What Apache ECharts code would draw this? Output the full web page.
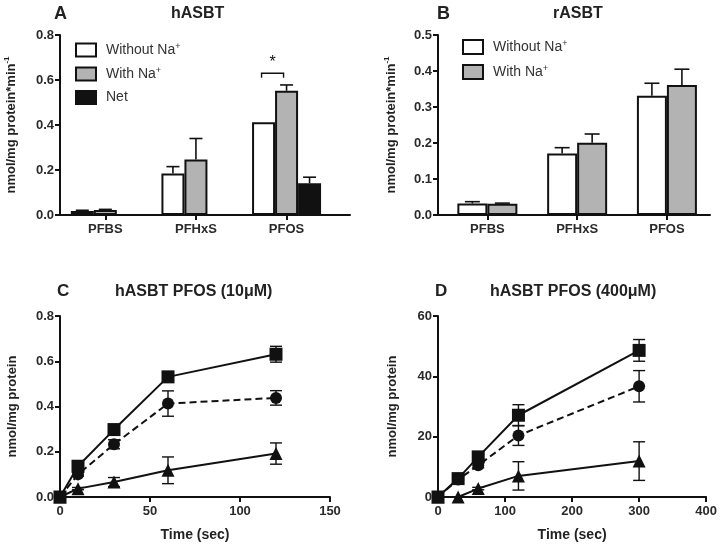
<!DOCTYPE html>
<html>
<head>
<meta charset="utf-8">
<script src="https://cdn.jsdelivr.net/npm/echarts@6/dist/echarts.min.js"></script>
<style>html,body{margin:0;padding:0;background:#fff}#c{width:720px;height:544px}</style>
</head>
<body>
<div id="c"></div>
<script>
// ---------- DATA ----------
const categories = ['PFBS', 'PFHxS', 'PFOS'];
const catPos = [0, 1, 2];

// Panel A (hASBT)
const aWithout = [0.018, 0.185, 0.412];
const aWithoutErr = [0.003, 0.030, 0];
const aWith = [0.022, 0.247, 0.552];
const aWithErr = [0.003, 0.093, 0.026];
const aNet = [null, null, 0.141];
const aNetErr = [null, null, 0.027];
const aSig = [[2, 0.63]]; // bracket between Without/With at PFOS

// Panel B (rASBT)
const bWithout = [0.032, 0.171, 0.331];
const bWithoutErr = [0.005, 0.016, 0.035];
const bWith = [0.031, 0.201, 0.361];
const bWithErr = [0.002, 0.024, 0.044];

// Panel C (10 uM)
const cTime = [0, 10, 30, 60, 120];
const cSquare = [0, 0.136, 0.298, 0.531, 0.631];
const cSquareErr = [0, 0.008, 0.010, 0.010, 0.035];
const cCircle = [0, 0.100, 0.233, 0.413, 0.438];
const cCircleErr = [0, 0.008, 0.020, 0.056, 0.032];
const cTri = [0, 0.037, 0.066, 0.118, 0.192];
const cTriErr = [0, 0.005, 0.020, 0.059, 0.047];

// Panel D (400 uM)
const dTime = [0, 30, 60, 120, 300];
const dSquare = [0, 6.1, 13.3, 27.1, 48.6];
const dSquareErr = [0, 0.4, 0.8, 3.5, 3.6];
const dCircle = [0, 5.8, 10.5, 20.4, 36.7];
const dCircleErr = [0, 0.4, 0.8, 3.3, 5.2];
const dTri = [0, 0, 2.8, 7.0, 11.9];
const dTriErr = [0, 0, 0.4, 4.7, 6.4];

// ---------- STYLE ----------
const FONT = 'Liberation Sans, Arial, sans-serif';
const BLACK = '#111';
const GRAY = '#b3b3b3';
const A_BAR = 23;
const B_BAR = 30;

function barData(vals) {
  const out = [];
  vals.forEach((v, i) => { if (v != null) out.push([catPos[i], v]); });
  return out;
}
function barErrData(vals, errs) {
  const out = [];
  vals.forEach((v, i) => { if (v != null && errs[i]) out.push([catPos[i], v, errs[i]]); });
  return out;
}
function ptData(t, v) { return t.map((x, i) => [x, v[i]]); }
function ptErrData(t, v, e) { return t.map((x, i) => [x, v[i], e[i]]); }

function barErrRender(offsetPx, capW) {
  return function (params, api) {
    const x = api.value(0), y = api.value(1), e = api.value(2);
    const p0 = api.coord([x, y]);
    const p1 = api.coord([x, y + e]);
    const cx = p0[0] + offsetPx;
    const st = { stroke: BLACK, lineWidth: 1.6 };
    return {
      type: 'group',
      children: [
        { type: 'line', shape: { x1: cx, y1: p0[1], x2: cx, y2: p1[1] }, style: st },
        { type: 'line', shape: { x1: cx - capW / 2, y1: p1[1], x2: cx + capW / 2, y2: p1[1] }, style: st }
      ]
    };
  };
}
function ptErrRender(capW) {
  return function (params, api) {
    const x = api.value(0), y = api.value(1), e = api.value(2);
    if (!e) return null;
    const pl = api.coord([x, y - e]);
    const ph = api.coord([x, y + e]);
    const cx = pl[0];
    const st = { stroke: BLACK, lineWidth: 1.4 };
    return {
      type: 'group',
      children: [
        { type: 'line', shape: { x1: cx, y1: pl[1], x2: cx, y2: ph[1] }, style: st },
        { type: 'line', shape: { x1: cx - capW / 2, y1: pl[1], x2: cx + capW / 2, y2: pl[1] }, style: st },
        { type: 'line', shape: { x1: cx - capW / 2, y1: ph[1], x2: cx + capW / 2, y2: ph[1] }, style: st }
      ]
    };
  };
}
function sigRender(params, api) {
  const x = api.value(0), y = api.value(1);
  const p = api.coord([x, y]);
  const pl = api.coord([x, y - 0.02]);
  const x1 = p[0] - A_BAR - 2, x2 = p[0] - 3;
  const st = { stroke: BLACK, lineWidth: 1.4, fill: null };
  return {
    type: 'group',
    children: [
      { type: 'polyline', shape: { points: [[x1, pl[1]], [x1, p[1]], [x2, p[1]], [x2, pl[1]]] }, style: st },
      { type: 'text', style: { text: '*', x: (x1 + x2) / 2, y: p[1] - 3, align: 'center', verticalAlign: 'bottom', font: '16px ' + FONT, fill: BLACK } }
    ]
  };
}

const axisLineStyle = { show: true, onZero: false, lineStyle: { color: BLACK, width: 2 } };
const tickStyle = { show: true, length: 5, lineStyle: { color: BLACK, width: 2 } };
const labelStyle = { color: '#2a2a2a', fontFamily: FONT, fontSize: 13, fontWeight: 'bold' };
const nameStyle = { color: '#222', fontFamily: FONT, fontSize: 13, fontWeight: 'bold',
  rich: { sup: { fontSize: 8, verticalAlign: 'top', padding: [0, 0, 8, 0], fontWeight: 'bold', fontFamily: FONT, color: '#222' },
          n: { fontSize: 13, fontWeight: 'bold', fontFamily: FONT, color: '#222' } } };

function yAxis(gi, min, max, interval, dec, name, gap) {
  return {
    type: 'value', gridIndex: gi, min: min, max: max, interval: interval,
    axisLine: axisLineStyle, axisTick: tickStyle, splitLine: { show: false },
    axisLabel: Object.assign({ margin: 6, formatter: v => v.toFixed(dec) }, labelStyle),
    name: name, nameLocation: 'middle', nameRotate: 90, nameGap: gap, nameTextStyle: nameStyle
  };
}

const legendRich = {
  t: { fontSize: 14, fontFamily: FONT, color: '#333', padding: [0, 0, 0, 5] },
  s: { fontSize: 9, fontFamily: FONT, color: '#333', verticalAlign: 'top', padding: [0, 0, 7, 0] }
};
function legendFmt(name) {
  if (name.endsWith('+')) return '{t|' + name.slice(0, -1) + '}{s|+}';
  return '{t|' + name + '}';
}

const option = {
  animation: false,
  backgroundColor: '#fff',
  title: [
    { text: 'A', left: 49, top: 0, textStyle: { fontFamily: FONT, fontSize: 18, fontWeight: 'bold', color: '#222' } },
    { text: 'hASBT', left: 166, top: 1, textStyle: { fontFamily: FONT, fontSize: 16, fontWeight: 'bold', color: '#222' } },
    { text: 'B', left: 432, top: 0, textStyle: { fontFamily: FONT, fontSize: 18, fontWeight: 'bold', color: '#222' } },
    { text: 'rASBT', left: 548, top: 1, textStyle: { fontFamily: FONT, fontSize: 16, fontWeight: 'bold', color: '#222' } },
    { text: 'C', left: 52, top: 278, textStyle: { fontFamily: FONT, fontSize: 17, fontWeight: 'bold', color: '#222' } },
    { text: 'hASBT PFOS (10\u03bcM)', left: 110, top: 279, textStyle: { fontFamily: FONT, fontSize: 16, fontWeight: 'bold', color: '#222' } },
    { text: 'D', left: 430, top: 278, textStyle: { fontFamily: FONT, fontSize: 17, fontWeight: 'bold', color: '#222' } },
    { text: 'hASBT PFOS (400\u03bcM)', left: 485, top: 279, textStyle: { fontFamily: FONT, fontSize: 16, fontWeight: 'bold', color: '#222' } }
  ],
  legend: [
    { orient: 'vertical', left: 70, top: 37, itemWidth: 20, itemHeight: 13, itemGap: 8.5, icon: 'rect',
      data: ['Without Na+', 'With Na+', 'Net'], formatter: legendFmt, textStyle: { rich: legendRich }, selectedMode: false },
    { orient: 'vertical', left: 457, top: 34, itemWidth: 20, itemHeight: 14, itemGap: 9, icon: 'rect',
      data: ['Without Na+ ', 'With Na+ '], formatter: n => legendFmt(n.trim()), textStyle: { rich: legendRich }, selectedMode: false }
  ],
  grid: [
    { left: 60, top: 35, width: 290, height: 180 },
    { left: 438, top: 35, width: 272, height: 180 },
    { left: 60, top: 316, width: 270, height: 181 },
    { left: 438, top: 316, width: 269, height: 181 }
  ],
  xAxis: [
    { type: 'value', gridIndex: 0, min: -0.5, max: 2.7,
      axisLine: axisLineStyle, axisTick: Object.assign({ customValues: catPos }, tickStyle), splitLine: { show: false },
      axisLabel: Object.assign({ customValues: catPos, margin: 8, formatter: v => categories[Math.round(v)] }, labelStyle) },
    { type: 'value', gridIndex: 1, min: -0.55, max: 2.48,
      axisLine: axisLineStyle, axisTick: Object.assign({ customValues: catPos }, tickStyle), splitLine: { show: false },
      axisLabel: Object.assign({ customValues: catPos, margin: 8, formatter: v => categories[Math.round(v)] }, labelStyle) },
    { type: 'value', gridIndex: 2, min: 0, max: 150, interval: 50,
      axisLine: axisLineStyle, axisTick: tickStyle, splitLine: { show: false },
      axisLabel: Object.assign({ margin: 8 }, labelStyle),
      name: 'Time (sec)', nameLocation: 'middle', nameGap: 31, nameTextStyle: { fontFamily: FONT, fontSize: 14, fontWeight: 'bold', color: '#222' } },
    { type: 'value', gridIndex: 3, min: 0, max: 400, interval: 100,
      axisLine: axisLineStyle, axisTick: tickStyle, splitLine: { show: false },
      axisLabel: Object.assign({ margin: 8 }, labelStyle),
      name: 'Time (sec)', nameLocation: 'middle', nameGap: 31, nameTextStyle: { fontFamily: FONT, fontSize: 14, fontWeight: 'bold', color: '#222' } }
  ],
  yAxis: [
    yAxis(0, 0, 0.8, 0.2, 1, '{n|nmol/mg protein*min}{sup|-1}', 41),
    yAxis(1, 0, 0.5, 0.1, 1, '{n|nmol/mg protein*min}{sup|-1}', 39),
    yAxis(2, 0, 0.8, 0.2, 1, 'nmol/mg protein', 41),
    yAxis(3, 0, 60, 20, 0, 'nmol/mg protein', 39)
  ],
  series: [
    { type: 'bar', name: 'Without Na+', xAxisIndex: 0, yAxisIndex: 0, barWidth: A_BAR, barGap: '0%',
      itemStyle: { color: '#fff', borderColor: BLACK, borderWidth: 2 }, data: barData(aWithout) },
    { type: 'bar', name: 'With Na+', xAxisIndex: 0, yAxisIndex: 0, barWidth: A_BAR, barGap: '0%',
      itemStyle: { color: GRAY, borderColor: BLACK, borderWidth: 2 }, data: barData(aWith) },
    { type: 'bar', name: 'Net', xAxisIndex: 0, yAxisIndex: 0, barWidth: A_BAR, barGap: '0%',
      itemStyle: { color: BLACK, borderColor: BLACK, borderWidth: 2 }, data: barData(aNet) },
    { type: 'custom', xAxisIndex: 0, yAxisIndex: 0, renderItem: barErrRender(-A_BAR, 13), data: barErrData(aWithout, aWithoutErr), z: 1 },
    { type: 'custom', xAxisIndex: 0, yAxisIndex: 0, renderItem: barErrRender(0, 13), data: barErrData(aWith, aWithErr), z: 1 },
    { type: 'custom', xAxisIndex: 0, yAxisIndex: 0, renderItem: barErrRender(A_BAR, 13), data: barErrData(aNet, aNetErr), z: 1 },
    { type: 'custom', xAxisIndex: 0, yAxisIndex: 0, renderItem: sigRender, data: aSig, z: 3 },
    { type: 'bar', name: 'Without Na+ ', xAxisIndex: 1, yAxisIndex: 1, barWidth: B_BAR, barGap: '0%',
      itemStyle: { color: '#fff', borderColor: BLACK, borderWidth: 2 }, data: barData(bWithout) },
    { type: 'bar', name: 'With Na+ ', xAxisIndex: 1, yAxisIndex: 1, barWidth: B_BAR, barGap: '0%',
      itemStyle: { color: GRAY, borderColor: BLACK, borderWidth: 2 }, data: barData(bWith) },
    { type: 'custom', xAxisIndex: 1, yAxisIndex: 1, renderItem: barErrRender(-B_BAR / 2, 15), data: barErrData(bWithout, bWithoutErr), z: 1 },
    { type: 'custom', xAxisIndex: 1, yAxisIndex: 1, renderItem: barErrRender(B_BAR / 2, 15), data: barErrData(bWith, bWithErr), z: 1 },
    { type: 'line', xAxisIndex: 2, yAxisIndex: 2, data: ptData(cTime, cSquare), symbol: 'rect', symbolSize: 13, clip: false,
      lineStyle: { color: BLACK, width: 2 }, itemStyle: { color: BLACK }, z: 3 },
    { type: 'line', xAxisIndex: 2, yAxisIndex: 2, data: ptData(cTime, cCircle), symbol: 'circle', symbolSize: 12, clip: false,
      lineStyle: { color: BLACK, width: 2, type: [7, 4] }, itemStyle: { color: BLACK }, z: 3 },
    { type: 'line', xAxisIndex: 2, yAxisIndex: 2, data: ptData(cTime, cTri), symbol: 'triangle', symbolSize: 13, clip: false,
      lineStyle: { color: BLACK, width: 2 }, itemStyle: { color: BLACK }, z: 3 },
    { type: 'custom', xAxisIndex: 2, yAxisIndex: 2, renderItem: ptErrRender(12), data: ptErrData(cTime, cSquare, cSquareErr), z: 2 },
    { type: 'custom', xAxisIndex: 2, yAxisIndex: 2, renderItem: ptErrRender(12), data: ptErrData(cTime, cCircle, cCircleErr), z: 2 },
    { type: 'custom', xAxisIndex: 2, yAxisIndex: 2, renderItem: ptErrRender(12), data: ptErrData(cTime, cTri, cTriErr), z: 2 },
    { type: 'line', xAxisIndex: 3, yAxisIndex: 3, data: ptData(dTime, dSquare), symbol: 'rect', symbolSize: 13, clip: false,
      lineStyle: { color: BLACK, width: 2 }, itemStyle: { color: BLACK }, z: 3 },
    { type: 'line', xAxisIndex: 3, yAxisIndex: 3, data: ptData(dTime, dCircle), symbol: 'circle', symbolSize: 12, clip: false,
      lineStyle: { color: BLACK, width: 2, type: [7, 4] }, itemStyle: { color: BLACK }, z: 3 },
    { type: 'line', xAxisIndex: 3, yAxisIndex: 3, data: ptData(dTime, dTri), symbol: 'triangle', symbolSize: 13, clip: false,
      lineStyle: { color: BLACK, width: 2 }, itemStyle: { color: BLACK }, z: 3 },
    { type: 'custom', xAxisIndex: 3, yAxisIndex: 3, renderItem: ptErrRender(12), data: ptErrData(dTime, dSquare, dSquareErr), z: 2 },
    { type: 'custom', xAxisIndex: 3, yAxisIndex: 3, renderItem: ptErrRender(12), data: ptErrData(dTime, dCircle, dCircleErr), z: 2 },
    { type: 'custom', xAxisIndex: 3, yAxisIndex: 3, renderItem: ptErrRender(12), data: ptErrData(dTime, dTri, dTriErr), z: 2 }
  ]
};

const chart = echarts.init(document.getElementById('c'), null, { renderer: 'canvas' });
chart.setOption(option);
</script>
</body>
</html>
